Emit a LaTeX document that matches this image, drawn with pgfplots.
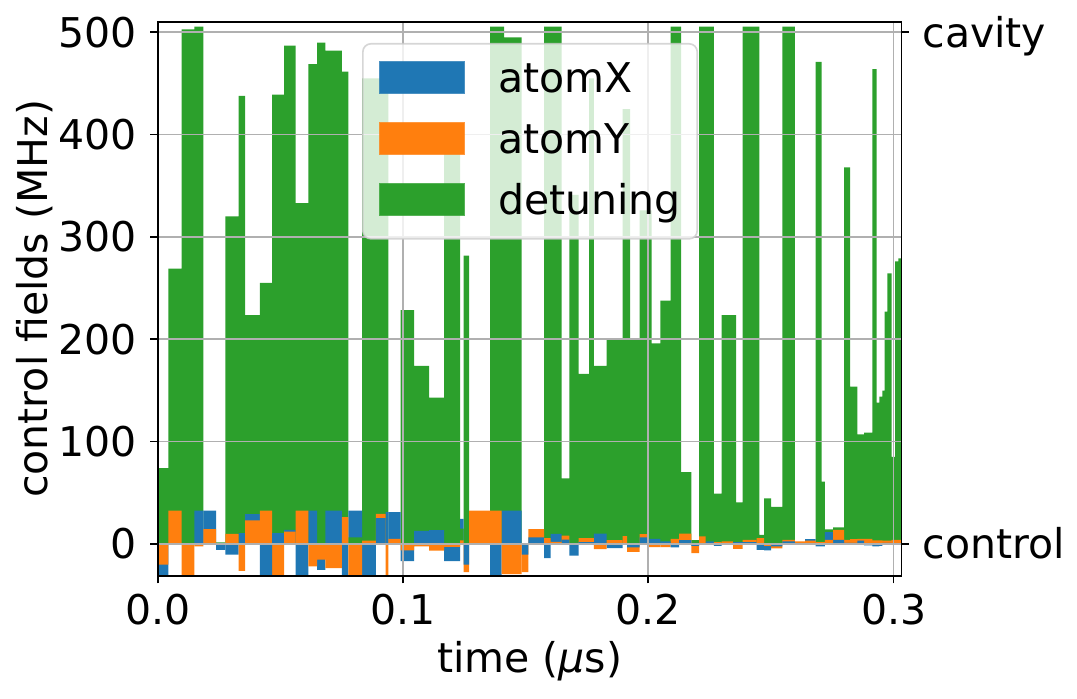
\documentclass[border=0pt]{standalone}
\usepackage{fontspec}
\setmainfont{DejaVu Sans}
\usepackage{pgfplots}
\usepackage{pgfplotstable}
\pgfplotsset{compat=1.18}

\definecolor{cX}{HTML}{1F77B4}
\definecolor{cY}{HTML}{FF7F0E}
\definecolor{cD}{HTML}{2CA02C}
\definecolor{gridgray}{HTML}{B0B0B0}
\definecolor{legendgray}{HTML}{CCCCCC}

\newcommand{\bigfont}{\fontsize{41bp}{49bp}\selectfont}

% Piecewise-constant pulse sequence: each row starts a time slice (us)
% X, Y: control amplitudes (MHz), D: detuning (MHz)
\pgfplotstableread{
t X Y D
0.00000 -31 -20.5 74
0.00432 0 32.4 269
0.00978 0 -31 503
0.01492 32.4 -2.6 505.5
0.01867 32.4 14.3 0
0.02377 -5.9 0 1.3
0.02756 -10.7 9.8 320
0.03294 10.4 -26.4 438
0.03559 29 22.8 223.6
0.04170 -31 32.4 255
0.04660 10.4 -31 439
0.05149 13.7 12 487
0.05618 -31 32.4 333
0.06139 32.4 -22 469
0.06494 -25.4 -15.6 490
0.06832 32.4 -23.8 482
0.07505 -31 26 461.5
0.07778 32.4 -31 6.2
0.08329 -31 3 455
0.08899 25 29.3 455
0.09287 31 -31 455
0.09401 31 4.7 0
0.09898 -17 -6.5 228.5
0.10449 12.7 -2.6 174
0.11060 13.4 -6.8 143
0.11672 -17 -3 382
0.12324 24.4 3.3 14.7
0.12467 -20.5 -27.7 281.6
0.12691 0 32.4 0
0.13547 -31 32.4 505.5
0.14016 32.4 -29.6 505.5
0.14118 32.4 -29.6 495
0.14831 -10.5 -27.7 0
0.15108 6.3 14.3 0
0.15748 -14 5.6 505.5
0.16013 9.8 1.8 505.5
0.16462 4 8 64
0.16780 -11.7 0 341
0.17155 1.5 5.5 166
0.17583 1.5 5.5 455
0.17786 10 -5.2 174
0.18296 -4.2 3.6 200
0.18956 0 7.5 425
0.19132 -3.6 -8 425
0.19254 -3.6 -8 200
0.19641 6.2 9.4 326
0.19947 4.9 -3.3 326
0.20139 4.9 -3.3 196
0.20497 2.3 -3.3 237.6
0.20905 -3.6 4.9 505.5
0.21252 3.6 10 505.5
0.21333 3.6 10 70
0.21753 -2 -9.2 3.5
0.22067 -1 7.2 505.5
0.22332 2.3 0 505.5
0.22678 -2 1.6 49
0.22984 0 2.3 223.6
0.23453 1.5 -4.9 223.6
0.23575 1.5 -4.9 40.5
0.23840 1.6 3.9 505.5
0.24411 -5.9 5.5 505.5
0.24525 -5.9 5.5 8.6
0.24717 -6.5 -2 44.5
0.25002 -2.5 -4.5 36
0.25463 2.3 3.9 505.5
0.25980 0.5 2.3 0
0.26388 4.5 3 0
0.26816 -2.6 1.6 471
0.27069 -2.6 1.6 60.7
0.27203 11.4 3.9 14
0.27530 3.9 13.7 16
0.27978 1 3.9 368
0.28223 1 4.5 153.6
0.28520 3 4.9 107
0.28793 -1.5 4.9 108.6
0.29132 -2.6 3.3 464
0.29311 -2.6 3.3 138
0.29417 -2 3.3 143.8
0.29539 1 3 149.7
0.29629 1 3 227
0.29743 1 3 264.4
0.29915 0 3.9 85
0.30057 0 3.9 276
0.30192 0 3.9 279
0.30383 0 0 0
}\pulses

% Stacking order inside each slice: the larger magnitude goes behind,
% the smaller one in front (0 = back, 2 = front)
\newcommand{\rankD}{((abs(\thisrow{X})>abs(\thisrow{D}))+(abs(\thisrow{Y})>abs(\thisrow{D})))}
\newcommand{\rankX}{((1-(abs(\thisrow{D})<abs(\thisrow{X})))+(abs(\thisrow{Y})>abs(\thisrow{X})))}
\newcommand{\rankY}{((1-(abs(\thisrow{D})<abs(\thisrow{Y})))+(1-(abs(\thisrow{X})<abs(\thisrow{Y}))))}

\pgfplotsset{
  slice/.style={ybar interval, draw=none, fill=#1, forget plot},
  patch/.style={legend image code/.code={\fill[#1, fill opacity=1, sharp corners] (0bp,-12.5bp) rectangle (84bp,18.5bp);}},
}

\begin{document}
\begin{tikzpicture}
\path[use as bounding box] (0,0) rectangle (1077bp,699bp);
\begin{axis}[
  at={(157.7bp,123bp)}, anchor=south west,
  scale only axis, width=743.8bp, height=554.3bp,
  xmin=0, xmax=0.30322, ymin=-31.5, ymax=510.4,
  axis on top,
  xtick={0,0.1,0.2,0.3}, xticklabels={0.0,0.1,0.2,0.3},
  ytick={0,100,200,300,400,500},
  xtick pos=left, ytick pos=left,
  tick align=outside, major tick length=7.3bp,
  tick style={line width=1.67bp, black},
  axis line style={line width=1.67bp, black},
  grid=major, grid style={line width=1.67bp, gridgray},
  /pgf/number format/assume math mode=true,
  yticklabel style={font=\bigfont, anchor=base east, inner sep=0pt, xshift=-13.5bp, yshift=-15bp},
  xticklabel style={font=\bigfont, anchor=base, inner sep=0pt, yshift=-41bp},
  xlabel={time (\textit{μ}s)},
  xlabel style={font=\bigfont, at={(axis description cs:0.5,-0.1732)}, anchor=base, inner sep=0pt},
  ylabel={control fields (MHz)},
  ylabel style={font=\bigfont, at={(axis description cs:-0.1475,0.5)}, anchor=base, inner sep=0pt},
  legend cell align=left,
  legend style={
    at={(axis description cs:0.2747,0.9616)}, anchor=north west,
    draw=legendgray, line width=1.67bp, rounded corners=8bp,
    fill=white, fill opacity=0.8, draw opacity=0.8, text opacity=1,
    inner xsep=16.5bp, inner ysep=16.5bp,
    row sep=21bp, column sep=33bp,
    font=\bigfont,
    nodes={inner sep=0pt, text height=32bp, text depth=8bp},
  },
]
% back layer
\addplot[slice=cD] table[x=t, y expr={ifthenelse(\rankD==0,\thisrow{D},0)}] {\pulses};
\addplot[slice=cX] table[x=t, y expr={ifthenelse(\rankX==0,\thisrow{X},0)}] {\pulses};
\addplot[slice=cY] table[x=t, y expr={ifthenelse(\rankY==0,\thisrow{Y},0)}] {\pulses};
% middle layer
\addplot[slice=cD] table[x=t, y expr={ifthenelse(\rankD==1,\thisrow{D},0)}] {\pulses};
\addplot[slice=cX] table[x=t, y expr={ifthenelse(\rankX==1,\thisrow{X},0)}] {\pulses};
\addplot[slice=cY] table[x=t, y expr={ifthenelse(\rankY==1,\thisrow{Y},0)}] {\pulses};
% front layer
\addplot[slice=cD] table[x=t, y expr={ifthenelse(\rankD==2,\thisrow{D},0)}] {\pulses};
\addplot[slice=cX] table[x=t, y expr={ifthenelse(\rankX==2,\thisrow{X},0)}] {\pulses};
\addplot[slice=cY] table[x=t, y expr={ifthenelse(\rankY==2,\thisrow{Y},0)}] {\pulses};

\addlegendimage{patch=cX}
\addlegendentry{atomX}
\addlegendimage{patch=cY}
\addlegendentry{atomY}
\addlegendimage{patch=cD}
\addlegendentry{detuning}
\end{axis}

% right-hand markers
\begin{axis}[
  at={(157.7bp,123bp)}, anchor=south west,
  scale only axis, width=743.8bp, height=554.3bp,
  xmin=0, xmax=0.30322, ymin=-31.5, ymax=510.4,
  axis x line=none, axis y line*=right,
  ytick={0,500}, yticklabels={control,cavity},
  tick align=outside, major tick length=7.3bp,
  tick style={line width=1.67bp, black},
  axis line style={line width=1.67bp, black},
  yticklabel style={font=\bigfont, anchor=base west, inner sep=0pt, xshift=13.5bp, yshift=-15bp},
]
\end{axis}
\end{tikzpicture}
\end{document}
